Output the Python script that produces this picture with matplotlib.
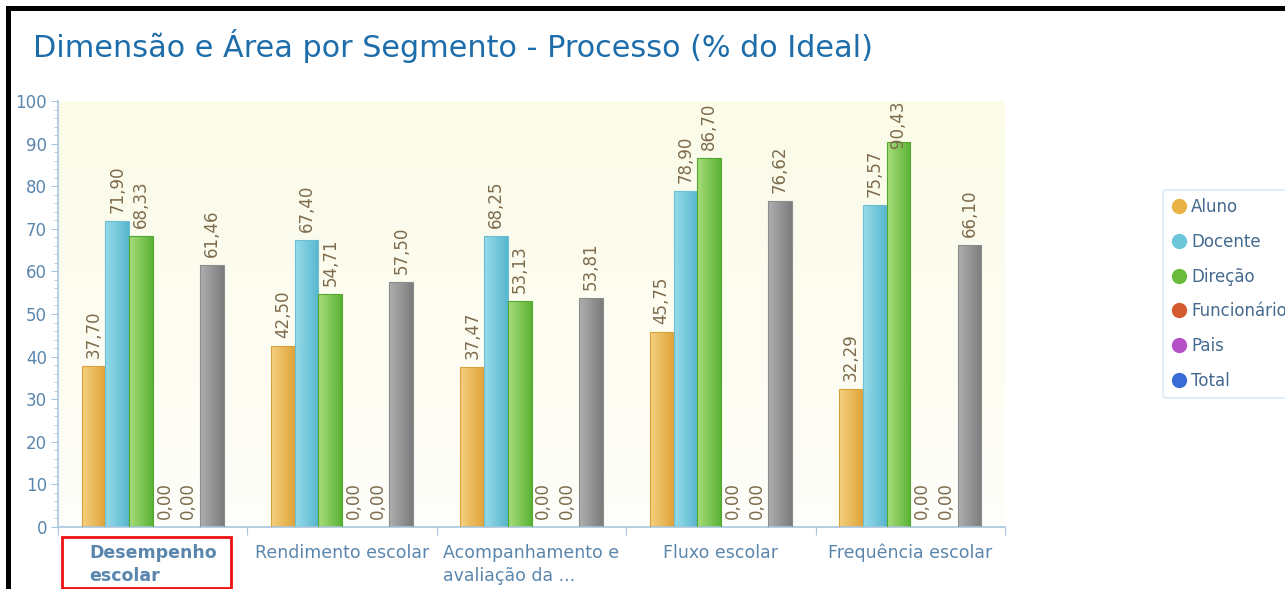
import numpy as np
import matplotlib
matplotlib.use("Agg")
import matplotlib.pyplot as plt
from matplotlib.colors import LinearSegmentedColormap
from matplotlib.lines import Line2D
from matplotlib.patches import Rectangle

# dados do grafico
categorias = ["Desempenho\nescolar", "Rendimento escolar", "Acompanhamento e\navaliação da ...",
              "Fluxo escolar", "Frequência escolar"]
segmentos = ["Aluno", "Docente", "Direção", "Funcionário", "Pais", "Total"]
aluno = [37.70, 42.50, 37.47, 45.75, 32.29]
docente = [71.90, 67.40, 68.25, 78.90, 75.57]
direcao = [68.33, 54.71, 53.13, 86.70, 90.43]
funcionario = [0.00, 0.00, 0.00, 0.00, 0.00]
pais = [0.00, 0.00, 0.00, 0.00, 0.00]
total = [61.46, 57.50, 53.81, 76.62, 66.10]
series = [aluno, docente, direcao, funcionario, pais, total]

# cores das barras (claro -> escuro) e da legenda
cores_barra = [("#f5d17f", "#e0a33a"), ("#96dcea", "#58b6cd"), ("#a8dd7c", "#5bb234"),
               ("#e07050", "#c84a28"), ("#c870d8", "#a840b8"), ("#afafaf", "#7c7c7c")]
bordas = ["#d9a13a", "#6cbfd3", "#52a82f", "#c04a28", "#a040b0", "#8c8c8c"]
cores_legenda = ["#e9b345", "#6cc6d9", "#6abb3c", "#d45a30", "#b650c6", "#3a6bd6"]

W, H = 1285, 589
fig = plt.figure(figsize=(W / 100, H / 100), dpi=100)
ax = fig.add_axes([58 / W, 1 - 527 / H, (1005 - 58) / W, (527 - 101) / H])

azul_eixo = "#a9c6de"
azul_texto = "#5a86ad"

# fundo do grafico com degrade amarelado
fundo = np.linspace(0, 1, 100).reshape(-1, 1)
cmap_fundo = LinearSegmentedColormap.from_list("fundo", ["#fefefa", "#fbfbe8"])
ax.imshow(fundo, extent=[0, 1, 0, 1], transform=ax.transAxes, origin="lower",
          cmap=cmap_fundo, aspect="auto", zorder=0)

n = len(categorias)
largura = 0.125
inicio = 0.125
grad = np.linspace(0, 1, 50).reshape(1, -1)

for j, valores in enumerate(series):
    xs = np.arange(n) + inicio + largura * (j + 0.5)
    barras = ax.bar(xs, valores, width=largura, facecolor="none",
                    edgecolor=bordas[j], linewidth=0.8, zorder=3)
    cm = LinearSegmentedColormap.from_list("b%d" % j, list(cores_barra[j]))
    for b in barras:
        if b.get_height() <= 0:
            b.set_visible(False)
            continue
        im = ax.imshow(grad, extent=[b.get_x(), b.get_x() + b.get_width(), 0, b.get_height()],
                       cmap=cm, aspect="auto", zorder=2)
        im.set_clip_path(b)
    for x, v in zip(xs, valores):
        y = min(v + 1.9, 89.0)
        ax.text(x, y, f"{v:.2f}".replace(".", ","), rotation=90, ha="center", va="bottom",
                fontsize=12, color="#7d6b4c", zorder=5)

ax.set_xlim(0, n)
ax.set_ylim(0, 100)

# eixo y
ax.set_yticks(np.arange(0, 101, 10))
ax.set_yticks(np.arange(0, 101, 2), minor=True)
ax.tick_params(axis="y", which="major", length=5, color=azul_eixo, labelcolor=azul_texto,
               labelsize=12, pad=3)
ax.tick_params(axis="y", which="minor", length=3, color=azul_eixo)

# eixo x
ax.set_xticks(np.arange(0, n + 1))
ax.set_xticklabels([])
ax.set_xticks(np.arange(n) + 0.5, minor=True)
ax.set_xticklabels(categorias, minor=True, multialignment="left", linespacing=1.4)
ax.tick_params(axis="x", which="major", length=6, color=azul_eixo)
ax.tick_params(axis="x", which="minor", length=0, pad=12, labelcolor=azul_texto, labelsize=12.5)
ax.get_xticklabels(minor=True)[0].set_fontweight("bold")

for lado in ["top", "right"]:
    ax.spines[lado].set_visible(False)
for lado in ["left", "bottom"]:
    ax.spines[lado].set_color(azul_eixo)
    ax.spines[lado].set_linewidth(1.2)

# titulo
fig.text(33 / W, 1 - 57 / H, "Dimensão e Área por Segmento - Processo (% do Ideal)",
         fontsize=21.8, color="#1d6dab", va="baseline", ha="left")

# legenda (cortada na borda direita, como no print original)
handles = [Line2D([], [], marker="o", linestyle="none", markersize=10,
                  markerfacecolor=c, markeredgecolor=c) for c in cores_legenda]
leg = fig.legend(handles, segmentos, loc="upper left", bbox_to_anchor=(1163 / W, 1 - 190 / H),
                 frameon=True, fontsize=12, labelspacing=1.0, handlelength=0.9,
                 handletextpad=0.3, borderpad=0.5, borderaxespad=0)
leg.get_frame().set_edgecolor("#d2e4f4")
leg.get_frame().set_linewidth(1.2)
for t in leg.get_texts():
    t.set_color("#44698f")

# moldura preta do print e destaque vermelho
fig.add_artist(Rectangle((6 / W, 0), 5 / W, 1 - 6 / H, transform=fig.transFigure,
                         facecolor="black", edgecolor="none"))
fig.add_artist(Rectangle((6 / W, 1 - 11 / H), 1, 5 / H, transform=fig.transFigure,
                         facecolor="black", edgecolor="none"))
fig.add_artist(Rectangle((62 / W, 1 - 588 / H), (231 - 62) / W, (588 - 537) / H,
                         transform=fig.transFigure, facecolor="none", edgecolor="#ee1111",
                         linewidth=2))

fig.savefig("out.png", dpi=100)
